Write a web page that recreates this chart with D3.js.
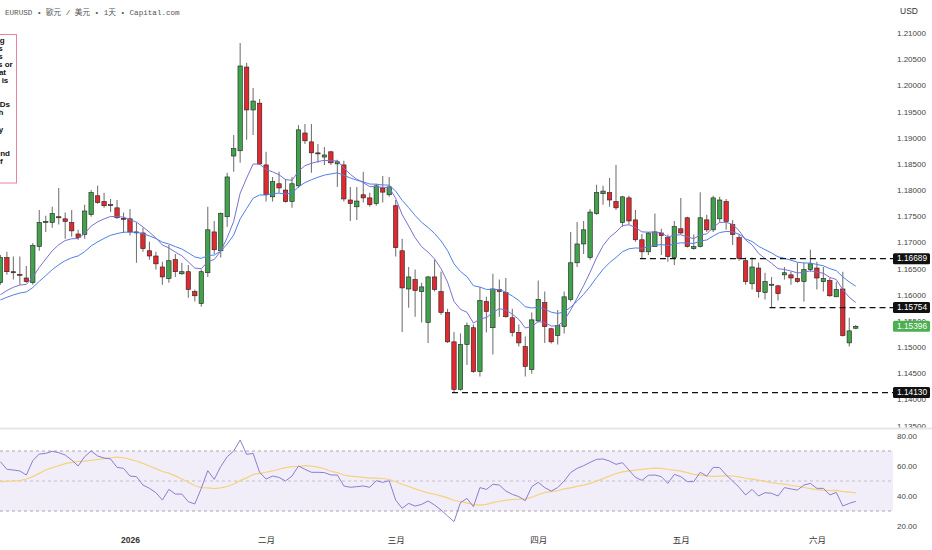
<!DOCTYPE html>
<html>
<head>
<meta charset="utf-8">
<script src="https://cdn.jsdelivr.net/npm/d3@7"></script>
<style>
  html, body { margin: 0; padding: 0; background: #fff; overflow: hidden; }
  svg { display: block; }
</style>
</head>
<body>
<svg id="chart" width="932" height="550"></svg>
<script>
// Daily EURUSD candles, 3 Dec 2025 .. 9 Jun 2026
const opens = [
  1.1623, 1.1671, 1.1644, 1.1639, 1.1632, 1.1623, 1.1692, 1.1738, 1.1738, 1.1749,
  1.1745, 1.1738, 1.1716, 1.1715, 1.1753, 1.1789, 1.1778, 1.1772, 1.1766, 1.1746,
  1.1745, 1.1720, 1.1718, 1.1684, 1.1674, 1.1653, 1.1631, 1.1667, 1.1640, 1.1644,
  1.1606, 1.1583, 1.1642, 1.1720, 1.1684, 1.1749, 1.1865, 1.1875, 1.2035, 1.1953,
  1.1966, 1.1848, 1.1787, 1.1812, 1.1800, 1.1778, 1.1808, 1.1909, 1.1892, 1.1871,
  1.1863, 1.1873, 1.1850, 1.1848, 1.1781, 1.1768, 1.1791, 1.1785, 1.1774, 1.1804,
  1.1791, 1.1770, 1.1684, 1.1611, 1.1629, 1.1606, 1.1547, 1.1634, 1.1606, 1.1566,
  1.1510, 1.1419, 1.1505, 1.1537, 1.1453, 1.1587, 1.1537, 1.1610, 1.1604, 1.1556,
  1.1528, 1.1501, 1.1457, 1.1550, 1.1585, 1.1535, 1.1522, 1.1539, 1.1591, 1.1661,
  1.1697, 1.1671, 1.1755, 1.1793, 1.1795, 1.1778, 1.1738, 1.1785, 1.1743, 1.1705,
  1.1682, 1.1692, 1.1718, 1.1709, 1.1671, 1.1726, 1.1747, 1.1688, 1.1692, 1.1743,
  1.1724, 1.1745, 1.1778, 1.1734, 1.1709, 1.1665, 1.1621, 1.1651, 1.1604, 1.1619,
  1.1617, 1.1638, 1.1638, 1.1631, 1.1625, 1.1648, 1.1651, 1.1625, 1.1627, 1.1596,
  1.1611, 1.1508, 1.1536
];
const highs = [
  1.1676, 1.1682, 1.1673, 1.1673, 1.1655, 1.1699, 1.1762, 1.1751, 1.1768, 1.1804,
  1.1757, 1.1762, 1.1724, 1.1772, 1.1800, 1.1808, 1.1795, 1.1783, 1.1781, 1.1757,
  1.1764, 1.1738, 1.1728, 1.1701, 1.1682, 1.1663, 1.1695, 1.1678, 1.1661, 1.1657,
  1.1610, 1.1648, 1.1768, 1.1741, 1.1757, 1.1833, 1.1905, 1.2081, 1.2043, 1.1995,
  1.1974, 1.1873, 1.1825, 1.1835, 1.1821, 1.1825, 1.1924, 1.1926, 1.1926, 1.1888,
  1.1882, 1.1875, 1.1858, 1.1856, 1.1806, 1.1806, 1.1835, 1.1795, 1.1812, 1.1827,
  1.1825, 1.1781, 1.1707, 1.1653, 1.1648, 1.1623, 1.1636, 1.1667, 1.1644, 1.1573,
  1.1529, 1.1526, 1.1547, 1.1543, 1.1615, 1.1596, 1.1640, 1.1629, 1.1632, 1.1573,
  1.1543, 1.1520, 1.1566, 1.1627, 1.1606, 1.1537, 1.1571, 1.1606, 1.1720, 1.1739,
  1.1741, 1.1764, 1.1810, 1.1808, 1.1823, 1.1848, 1.1789, 1.1789, 1.1762, 1.1716,
  1.1720, 1.1755, 1.1726, 1.1715, 1.1741, 1.1785, 1.1749, 1.1715, 1.1796, 1.1753,
  1.1789, 1.1787, 1.1783, 1.1743, 1.1715, 1.1671, 1.1671, 1.1661, 1.1642, 1.1634,
  1.1619, 1.1653, 1.1644, 1.1661, 1.1661, 1.1686, 1.1663, 1.1653, 1.1632, 1.1625,
  1.1644, 1.1556, 1.1542
];
const lows = [
  1.1619, 1.1638, 1.1629, 1.1619, 1.1623, 1.1619, 1.1684, 1.1720, 1.1728, 1.1734,
  1.1707, 1.1711, 1.1705, 1.1707, 1.1749, 1.1774, 1.1766, 1.1758, 1.1745, 1.1718,
  1.1713, 1.1661, 1.1682, 1.1667, 1.1648, 1.1619, 1.1623, 1.1634, 1.1638, 1.1594,
  1.1587, 1.1577, 1.1634, 1.1678, 1.1671, 1.1730, 1.1835, 1.1852, 1.1896, 1.1905,
  1.1848, 1.1778, 1.1778, 1.1795, 1.1776, 1.1766, 1.1804, 1.1888, 1.1833, 1.1852,
  1.1848, 1.1848, 1.1806, 1.1778, 1.1741, 1.1743, 1.1776, 1.1768, 1.1770, 1.1776,
  1.1787, 1.1673, 1.1529, 1.1575, 1.1558, 1.1547, 1.1508, 1.1606, 1.1562, 1.1508,
  1.1413, 1.1417, 1.1466, 1.1451, 1.1444, 1.1528, 1.1486, 1.1558, 1.1556, 1.1520,
  1.1501, 1.1444, 1.1449, 1.1547, 1.1508, 1.1507, 1.1505, 1.1526, 1.1587, 1.1653,
  1.1678, 1.1667, 1.1753, 1.1772, 1.1768, 1.1762, 1.1730, 1.1734, 1.1701, 1.16689,
  1.1676, 1.1692, 1.1676, 1.1663, 1.1657, 1.1715, 1.1690, 1.1686, 1.1690, 1.1720,
  1.1720, 1.1738, 1.1724, 1.1695, 1.1665, 1.1619, 1.1610, 1.1594, 1.1591, 1.15754,
  1.1589, 1.1629, 1.1619, 1.1623, 1.1587, 1.1644, 1.1610, 1.1606, 1.1596, 1.1596,
  1.1520, 1.1501, 1.1534
];
const closes = [
  1.1671, 1.1644, 1.1642, 1.1638, 1.1625, 1.1694, 1.1738, 1.1740, 1.1755, 1.1747,
  1.1740, 1.1722, 1.1709, 1.1760, 1.1795, 1.1776, 1.1770, 1.1771, 1.1747, 1.1745,
  1.1720, 1.1719, 1.1688, 1.1674, 1.1659, 1.1634, 1.1665, 1.1644, 1.1644, 1.1610,
  1.1598, 1.1644, 1.1724, 1.1686, 1.1755, 1.1825, 1.1879, 1.2037, 1.1953, 1.1970,
  1.1850, 1.1791, 1.1816, 1.1804, 1.1778, 1.1812, 1.1915, 1.1894, 1.1871, 1.1870,
  1.1867, 1.1852, 1.1854, 1.1783, 1.1774, 1.1779, 1.1785, 1.1772, 1.1808, 1.1796,
  1.1806, 1.1690, 1.1613, 1.1634, 1.1608, 1.1615, 1.1634, 1.1610, 1.1566, 1.1510,
  1.1419, 1.1505, 1.1541, 1.1453, 1.1589, 1.1568, 1.1611, 1.1606, 1.1558, 1.1528,
  1.1508, 1.1463, 1.1552, 1.1591, 1.1539, 1.1510, 1.1541, 1.1596, 1.1661, 1.1697,
  1.1724, 1.1758, 1.1795, 1.1798, 1.1781, 1.1766, 1.1787, 1.1741, 1.1705, 1.1682,
  1.1718, 1.1720, 1.1713, 1.1673, 1.1730, 1.1718, 1.1692, 1.1692, 1.1747, 1.1724,
  1.1785, 1.1781, 1.1740, 1.1715, 1.1669, 1.1625, 1.1653, 1.1606, 1.1625, 1.1620,
  1.1602, 1.1642, 1.1632, 1.1625, 1.1648, 1.1659, 1.1632, 1.1631, 1.1598, 1.1610,
  1.1522, 1.1531, 1.15396
];

// RSI(14) per candle
const rsi = [
  62.9, 57.8, 57.3, 56.7, 54.0, 63.6, 68.0, 68.4, 69.8, 68.9,
  67.3, 64.0, 60.0, 66.2, 70.0, 66.7, 65.3, 64.7, 59.1, 58.4,
  53.3, 52.9, 47.3, 45.1, 42.2, 37.3, 44.4, 41.3, 41.3, 36.2,
  34.7, 45.1, 56.9, 51.1, 59.6, 66.2, 70.0, 77.3, 67.8, 68.4,
  55.8, 51.3, 53.3, 52.4, 50.0, 53.3, 60.0, 57.8, 55.8, 55.8,
  55.6, 54.0, 54.0, 46.7, 45.8, 46.2, 46.7, 45.8, 50.2, 49.1,
  50.2, 37.3, 31.8, 35.1, 33.3, 34.4, 36.7, 34.0, 30.7, 26.7,
  22.9, 35.6, 38.4, 32.9, 45.6, 44.4, 47.8, 47.3, 43.3, 41.1,
  39.6, 36.9, 46.2, 49.1, 45.6, 43.3, 45.6, 50.0, 55.6, 58.4,
  60.2, 62.4, 64.4, 64.7, 63.3, 61.1, 62.2, 57.3, 52.4, 50.4,
  53.8, 54.0, 52.9, 48.4, 54.4, 52.9, 49.6, 49.6, 55.8, 53.3,
  59.1, 58.9, 54.0, 50.0, 45.8, 40.7, 44.4, 40.0, 42.2, 41.8,
  40.0, 45.6, 44.7, 44.0, 47.3, 48.4, 45.1, 45.1, 40.7, 42.4,
  33.3, 35.1, 36.4
];
// RSI moving average for the first 13 candles (its earlier inputs are off-screen)
const rsiMaStart = [49.6, 49.8, 50.0, 50.2, 51.3, 52.9, 55.1, 57.3, 58.9, 60.2, 61.6, 62.4, 63.1];
const rsiMaLength = 14;

// EMA 10 / EMA 20 values at the first candle
const emaFastStart = 1.1600;
const emaSlowStart = 1.1590;

const priceTicks = [1.135, 1.14, 1.145, 1.15, 1.155, 1.16, 1.165, 1.17, 1.175,
  1.18, 1.185, 1.19, 1.195, 1.2, 1.205, 1.21];
const rsiTicks = [20, 40, 60, 80];
const rsiLevels = [70, 50, 30];
const monthLabels = ["2026", "二月", "三月", "四月", "五月", "六月"];

// horizontal support levels: price and the candle they start from
const levelPrices = [1.16689, 1.15754, 1.14130];
const levelStart = [99, 119, 70];

const boxLines = ["g", "s", "s", "s or", "at", "e is", "", "", "Ds", "h", "", "y", "", "", "nd", "f"];
const boxLineEnds = [4.7, 2.7, 2.7, 12.7, 6, 8.3, 0, 0, 10, 3.3, 0, 3.3, 0, 0, 10, 2.7];

// trading days
const skipDays = ["2025-12-25", "2026-01-01"];
const fmtDay = d3.timeFormat("%Y-%m-%d");
const days = d3.timeDay.range(new Date(2025, 11, 3), new Date(2026, 5, 10))
  .filter(d => d.getDay() !== 0 && d.getDay() !== 6 && !skipDays.includes(fmtDay(d)));

const candles = days.map((d, i) => ({
  i, date: d, open: opens[i], high: highs[i], low: lows[i], close: closes[i]
}));

// indicators
function ema(values, start, len) {
  const k = 2 / (len + 1);
  const out = [start];
  for (let i = 1; i < values.length; i++) out.push(out[i - 1] + k * (values[i] - out[i - 1]));
  return out;
}
const emaFast = ema(closes, emaFastStart, 10);
const emaSlow = ema(closes, emaSlowStart, 20);
const rsiMa = rsi.map((v, i) => i < rsiMaStart.length
  ? rsiMaStart[i]
  : d3.mean(rsi.slice(i - rsiMaLength + 1, i + 1)));

// layout
const W = 932, H = 550;
const plotRight = 893;

const svg = d3.select("#chart");
const sans = "'Liberation Sans', Arial, 'Noto Sans CJK TC', sans-serif";

const x = d3.scaleLinear().domain([0, days.length - 1]).range([0.4, 0.4 + 6.48 * (days.length - 1)]);
const y = d3.scaleLinear().domain([1.135, 1.21]).range([425.6, 33]);
const yr = d3.scaleLinear().domain([20, 80]).range([526, 436]);

// title
svg.append("text")
  .attr("x", 5).attr("y", 15)
  .attr("font-family", "'Liberation Mono', 'Noto Sans CJK TC', monospace")
  .attr("font-size", 7.6)
  .attr("fill", "#555")
  .text("EURUSD • 歐元 / 美元 • 1天 • Capital.com");

svg.append("text")
  .attr("x", 900).attr("y", 14)
  .attr("font-family", sans).attr("font-size", 8.5).attr("fill", "#333")
  .text("USD");

// truncated disclaimer box at the left edge
const box = svg.append("g");
box.append("rect")
  .attr("x", -60).attr("y", 34.5).attr("width", 76.5).attr("height", 148.5)
  .attr("fill", "#fff").attr("stroke", "#e8849a").attr("stroke-width", 1);
box.selectAll("text").data(boxLines).enter().append("text")
  .attr("x", (d, i) => boxLineEnds[i])
  .attr("y", (d, i) => 43 + i * 8.05)
  .attr("text-anchor", "end")
  .attr("font-family", sans).attr("font-size", 8).attr("font-weight", "bold")
  .attr("fill", "#111")
  .text(d => d);

// candles
const bodyW = 4.4;
const up = d => d.close >= d.open;
const cg = svg.append("g");
cg.selectAll("line.wick").data(candles).enter().append("line")
  .attr("class", "wick")
  .attr("x1", d => x(d.i)).attr("x2", d => x(d.i))
  .attr("y1", d => y(d.high)).attr("y2", d => y(d.low))
  .attr("stroke", "#777").attr("stroke-width", 1.1);
cg.selectAll("rect.body").data(candles).enter().append("rect")
  .attr("class", "body")
  .attr("x", d => x(d.i) - bodyW / 2)
  .attr("width", bodyW)
  .attr("y", d => y(Math.max(d.open, d.close)))
  .attr("height", d => Math.max(1, Math.abs(y(d.open) - y(d.close))))
  .attr("fill", d => up(d) ? "#41a24b" : "#e12a30")
  .attr("stroke", "#222").attr("stroke-width", 0.6);

// moving averages
const maLine = arr => d3.line().x((d, i) => x(i)).y(d => y(d))(arr);
svg.append("path").attr("d", maLine(emaSlow))
  .attr("fill", "none").attr("stroke", "#4f80e6").attr("stroke-width", 1);
svg.append("path").attr("d", maLine(emaFast))
  .attr("fill", "none").attr("stroke", "#7a70d2").attr("stroke-width", 1);

// support levels
svg.selectAll("line.level").data(levelPrices).enter().append("line")
  .attr("class", "level")
  .attr("x1", (d, i) => x(levelStart[i]) - 2).attr("x2", plotRight)
  .attr("y1", d => y(d)).attr("y2", d => y(d))
  .attr("stroke", "#111").attr("stroke-width", 1.4)
  .attr("stroke-dasharray", "6,4");

// price axis
const yAxis = svg.append("g")
  .attr("transform", `translate(${plotRight},0)`)
  .call(d3.axisRight(y).tickValues(priceTicks).tickFormat(d3.format(".5f")).tickSize(0).tickPadding(4));
yAxis.select(".domain").remove();
yAxis.selectAll("text").attr("font-family", sans).attr("font-size", 8).attr("fill", "#444");

// level labels
const tags = svg.selectAll("g.tag").data(levelPrices.concat([closes[closes.length - 1]])).enter()
  .append("g").attr("class", "tag")
  .attr("transform", d => `translate(${plotRight},${y(d)})`);
tags.append("rect")
  .attr("x", 0).attr("y", -5.5).attr("width", 37).attr("height", 11).attr("rx", 1.5)
  .attr("fill", (d, i) => i === levelPrices.length ? "#4caf50" : "#111");
tags.append("text")
  .attr("x", 4).attr("dy", "0.34em")
  .attr("font-family", sans).attr("font-size", 8.3).attr("fill", "#fff")
  .text(d => d3.format(".5f")(d));

// panel separator
svg.append("line")
  .attr("x1", 0).attr("x2", W).attr("y1", 428.5).attr("y2", 428.5)
  .attr("stroke", "#e6e6e6").attr("stroke-width", 2);

// RSI panel
svg.append("rect")
  .attr("x", 0).attr("width", plotRight)
  .attr("y", yr(70)).attr("height", yr(30) - yr(70))
  .attr("fill", "#f1eefa");
svg.selectAll("line.rsilevel").data(rsiLevels).enter().append("line")
  .attr("class", "rsilevel")
  .attr("x1", 0).attr("x2", plotRight)
  .attr("y1", d => yr(d)).attr("y2", d => yr(d))
  .attr("stroke", d => d === 50 ? "#c3c0cc" : "#a9a6b2").attr("stroke-width", 1)
  .attr("stroke-dasharray", "3,3");

const rLine = d3.line().x((d, i) => x(i)).y(d => yr(d));
svg.append("path").attr("d", rLine(rsiMa))
  .attr("fill", "none").attr("stroke", "#f5d27c").attr("stroke-width", 1.2);
svg.append("path").attr("d", rLine(rsi))
  .attr("fill", "none").attr("stroke", "#8a7fcf").attr("stroke-width", 1);

const rAxis = svg.append("g")
  .attr("transform", `translate(${plotRight},0)`)
  .call(d3.axisRight(yr).tickValues(rsiTicks).tickFormat(d3.format(".2f")).tickSize(0).tickPadding(4));
rAxis.select(".domain").remove();
rAxis.selectAll("text").attr("font-family", sans).attr("font-size", 8).attr("fill", "#444");

// time axis: first trading day of each month
const monthStarts = days.map((d, i) => i).filter(i => i > 0 && days[i].getMonth() !== days[i - 1].getMonth());
const xAxis = svg.append("g")
  .attr("transform", "translate(0,537)")
  .call(d3.axisBottom(x).tickValues(monthStarts).tickFormat((d, i) => monthLabels[i]).tickSize(0).tickPadding(0));
xAxis.select(".domain").remove();
xAxis.selectAll("text")
  .attr("font-family", sans).attr("font-size", 8.5).attr("fill", "#333")
  .attr("font-weight", (d, i) => i === 0 ? "bold" : "normal");
</script>
</body>
</html>
